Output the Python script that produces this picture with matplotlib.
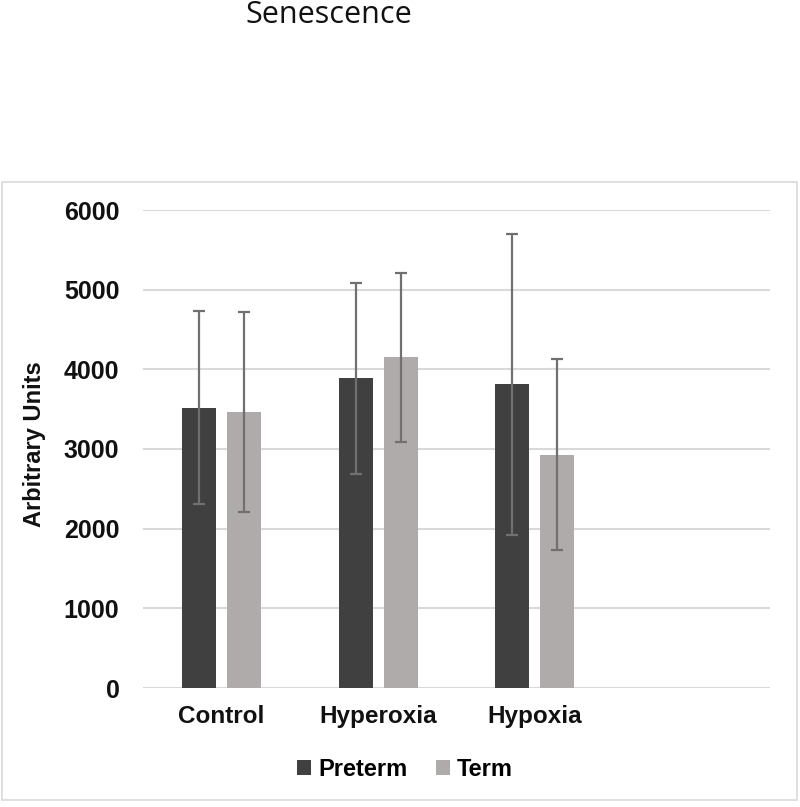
import numpy as np
import matplotlib
matplotlib.use("Agg")
import matplotlib.pyplot as plt
from matplotlib.patches import Rectangle

# values
categories = ["Control", "Hyperoxia", "Hypoxia"]
series_names = ["Preterm", "Term"]
preterm_mean = [3520, 3885, 3810]
preterm_err = [1215, 1195, 1890]
term_mean = [3470, 4150, 2930]
term_err = [1255, 1060, 1200]
y_ticks = [0, 1000, 2000, 3000, 4000, 5000, 6000]

W, H = 800, 807
fig = plt.figure(figsize=(W / 100, H / 100), dpi=100)

# outer chart frame
fig.patches.append(Rectangle((2 / W, 1 - 800 / H), 795 / W, 618 / H,
                             transform=fig.transFigure, fill=False,
                             edgecolor="#d9d9d9", linewidth=1.2))

fig.text(329 / W, 1 - 23 / H, "Senescence", ha="center", va="baseline",
         fontsize=22, family="Open Sans", color="#111111")

ax = fig.add_axes([143 / W, 1 - 688 / H, (770 - 143) / W, (688 - 210) / H])

x = np.arange(len(categories))
width = 0.217
off = 0.143
err_kw = dict(ecolor="#707070", elinewidth=1.6, capsize=4.5, capthick=1.6)
ax.bar(x - off, preterm_mean, width, yerr=preterm_err, color="#404040",
       label=series_names[0], error_kw=err_kw, zorder=3)
ax.bar(x + off, term_mean, width, yerr=term_err, color="#afabab",
       label=series_names[1], error_kw=err_kw, zorder=3)

ax.set_xlim(-0.5, 3.5)
ax.set_ylim(0, 6000)
ax.set_yticks(y_ticks)
ax.set_yticklabels([str(v) for v in y_ticks])
ax.set_xticks(x)
ax.set_xticklabels(categories)
ax.yaxis.grid(True, color="#d9d9d9", linewidth=1.5, zorder=0)
ax.set_axisbelow(True)
for s in ax.spines.values():
    s.set_visible(False)
ax.tick_params(axis="both", length=0, labelsize=17.5, labelcolor="#111111")
ax.tick_params(axis="y", labelsize=18, pad=17)
ax.tick_params(axis="x", pad=12)
for lab in ax.get_xticklabels() + ax.get_yticklabels():
    lab.set_fontweight("bold")
    lab.set_family("Liberation Sans")

fig.text(35 / W, 1 - 444 / H, "Arbitrary Units", rotation=90, ha="center",
         va="center", fontsize=17, fontweight="bold", family="Liberation Sans",
         color="#111111")

leg = ax.legend(loc="center", bbox_to_anchor=(405 / W, 1 - 769 / H),
                bbox_transform=fig.transFigure, ncol=2, frameon=False,
                handlelength=0.6, handleheight=0.6, handletextpad=0.3,
                columnspacing=1.2, prop={"family": "Liberation Sans",
                                         "weight": "bold", "size": 17})

plt.savefig("out.png", dpi=100)
plt.close()
